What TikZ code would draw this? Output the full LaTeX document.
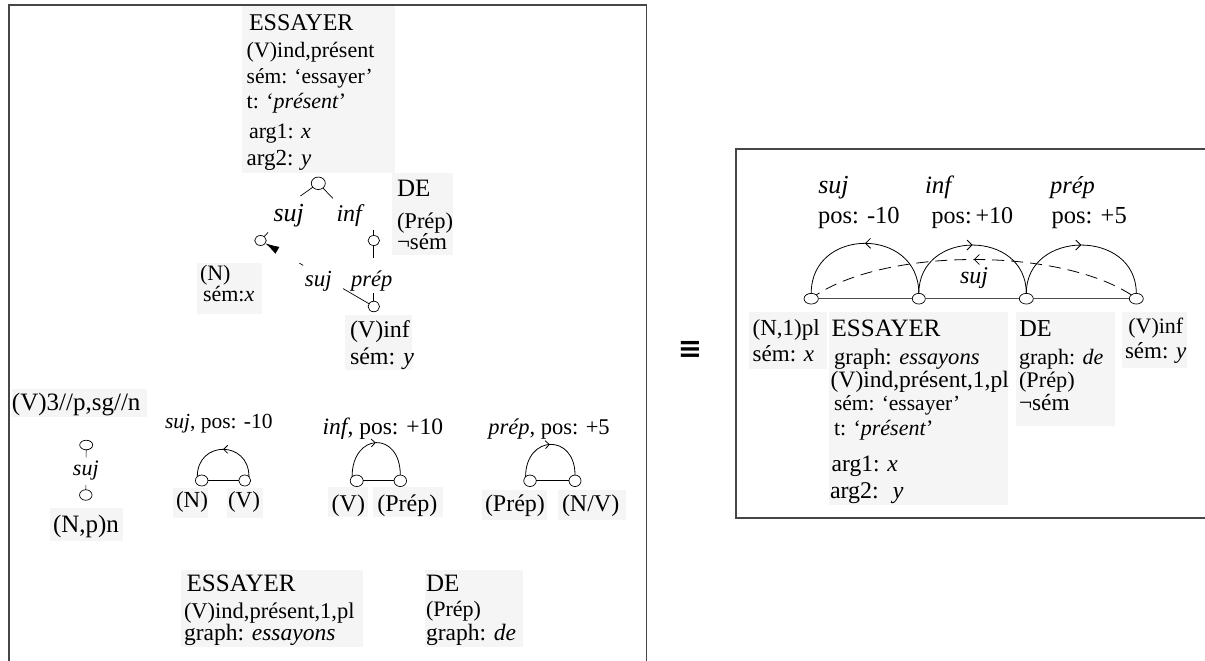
\documentclass[tikz,border=0pt]{standalone}
\usepackage{fontspec}
\setmainfont{Liberation Serif}
\newfontfamily\dejavu{DejaVu Sans}
\usetikzlibrary{arrows.meta,decorations.markings,shapes.geometric,calc}
\newcommand{\fsz}[1]{\fontsize{#1}{#1}\selectfont}
\definecolor{boxgray}{RGB}{245,245,245}
\definecolor{framegray}{RGB}{70,70,70}
\tikzset{
  frame/.style={draw=framegray, line width=1.3pt},
  gbox/.style={rectangle, fill=boxgray, inner sep=0pt, outer sep=0pt, anchor=north west},
  txt/.style={anchor=base west, inner sep=0pt, outer sep=0pt},
  lbl/.style={anchor=base, inner sep=0pt, outer sep=0pt},
  knob/.style 2 args={ellipse, draw, fill=white, inner sep=0pt, outer sep=0pt,
                      line width=0.7pt, minimum width=#1, minimum height=#2},
  edge/.style={line width=0.7pt},
  arcline/.style={line width=0.8pt},
  baseline/.style={draw=black!70, line width=1.1pt},
  smallbarb/.style={postaction={decorate}, decoration={markings,
      mark=at position 0.5 with {\arrow{Straight Barb[length=4pt,width=8pt]}}}},
  bigbarb/.style={postaction={decorate}, decoration={markings,
      mark=at position 0.5 with {\arrow{Straight Barb[length=5pt,width=10pt]}}}},
}
\begin{document}
\begin{tikzpicture}[x=1pt,y=-1pt]
\useasboundingbox (0,0) rectangle (1205,661);

% ---------------- left panel: lexical and syntactic rules ----------------
% ESSAYER semantic entry
\node[gbox, minimum width=153pt, minimum height=166.7pt] (bTop) at (242,6) {};
\node[txt] (tEss) at (249,31)    {\fsz{24}ESSAYER};
\node[txt] (tInd) at (246.7,57.3) {\fsz{22}(V)ind,présent};
\node[txt] (tSem) at (246.7,84)  {\fsz{21.5}sém: ‘essayer’};
\node[txt] (tT)   at (246.7,108) {\fsz{22}t: ‘\textit{présent}’};
\node[txt] (tA1)  at (249,138)   {\fsz{22}arg1: \textit{x}};
\node[txt] (tA2)  at (246.7,165) {\fsz{23}arg2: \textit{y}};

% DE entry
\node[gbox, minimum width=61pt, minimum height=82pt] (bDe) at (392,173) {};
\node[txt] (dDe)   at (397,196.7) {\fsz{25}DE};
\node[txt] (dPrep) at (397,228.5) {\fsz{22.5}(Prép)};
\node[txt] (dNeg)  at (397,249)   {\fsz{23}¬sém};

% (N) and (V)inf entries
\node[gbox, minimum width=65pt, minimum height=50.7pt] (bN) at (196.7,263.3) {};
\node[txt] (nN)   at (200,280)   {\fsz{22}(N)};
\node[txt] (nSem) at (203,301.5) {\fsz{22}sém:\textit{x}};
\node[gbox, minimum width=66.7pt, minimum height=55pt] (bVinf) at (345,315) {};
\node[txt] (vInf) at (350,337.5) {\fsz{24}(V)inf};
\node[txt] (vSem) at (350,364)   {\fsz{24}sém: \textit{y}};

% dependency tree of ESSAYER
\node[knob={14pt}{12.5pt}] (t0)   at (318.3,183.3) {};
\node[knob={11.5pt}{10pt}] (csuj) at (260.5,240.5) {};
\node[knob={11.5pt}{10pt}] (cinf) at (373.8,240.5) {};
\node[knob={11.5pt}{10.5pt}] (cV) at (373.8,306.5) {};
\node[lbl] (lsuj)  at (288.7,221) {\fsz{26}\itshape suj};
\node[lbl] (linf)  at (349.2,221) {\fsz{24}\itshape inf};
\node[lbl] (lprep) at (371.7,286) {\fsz{22.5}\itshape prép};
\node[lbl] (ldsuj) at (318.3,286.3) {\fsz{23}\itshape suj};

\draw[edge] (t0) -- ($(t0)!22pt!(lsuj.west)$);
\draw[edge] (t0) -- ($(t0)!21pt!(linf)$);
\draw[edge] (csuj) -- ($(csuj)!11pt!(lsuj.south west)$);
\draw[edge] (cinf) -- ($(cinf)!11pt!(cinf|-linf)$);
\draw[edge] (cinf) -- ($(cinf)!17pt!(cV)$);
\draw[edge] (cV) -- ($(cV)!14pt!(cinf)$);
\draw[edge, dash pattern=on 30pt off 46pt on 4.5pt off 60pt,
      -{Latex[length=14pt,width=8pt]}] (cV) -- (csuj);

% agreement rule
\node[gbox, minimum width=135pt, minimum height=27.7pt] (bV3) at (11.7,389) {};
\node[txt] (v3) at (12,410) {\fsz{25}(V)3//p,sg//n};
\node[knob={13pt}{9.5pt}] (ctop) at (86.2,445) {};
\node[knob={12.5pt}{10.5pt}] (cbot) at (85.8,495) {};
\node[lbl] (lagr) at (85.8,475) {\fsz{22}\itshape suj};
\draw[edge] (ctop) -- ($(ctop)!12.3pt!(cbot)$);
\draw[edge] (cbot) -- ($(cbot)!10pt!(ctop)$);
\node[gbox, minimum width=72.7pt, minimum height=32.7pt] (bNp) at (50,508) {};
\node[txt] (np) at (53,532) {\fsz{25}(N,p)n};

% linearisation rules
\node[txt] (rSuj) at (165,428.3) {\fsz{21.5}\textit{suj}, pos: -10};
\node[knob={12.5pt}{11pt}] (aL) at (201.7,480.5) {};
\node[knob={12pt}{11pt}]   (aR) at (244.7,480.5) {};
\draw[edge] (aL) -- (aR);
\draw[arcline, smallbarb] (aR.north east) .. controls +(0,-36.4) and +(0,-36.4) .. (aL.north west);
\node[gbox, minimum width=35pt, minimum height=29.7pt] (bAN) at (173,488.3) {};
\node[txt] (aN) at (176,507.7) {\fsz{23}(N)};
\node[gbox, minimum width=36.3pt, minimum height=29.7pt] (bAV) at (226.7,488.3) {};
\node[txt] (aV) at (228,507.7) {\fsz{23}(V)};

\node[txt] (rInf) at (322.7,434) {\fsz{23.5}\textit{inf}, pos: +10};
\node[knob={13pt}{11.5pt}] (bL) at (356.7,480.8) {};
\node[knob={12.5pt}{11.5pt}] (bR) at (400.3,480.8) {};
\draw[edge] (bL) -- (bR);
\draw[arcline, smallbarb] (bL.north west) .. controls +(0,-44.4) and +(0,-44.4) .. (bR.north);
\node[gbox, minimum width=40pt, minimum height=30pt] (bBV) at (328.3,486.7) {};
\node[txt] (bV) at (331.7,511.5) {\fsz{24}(V)};
\node[gbox, minimum width=70pt, minimum height=30pt] (bBP) at (373.3,486.7) {};
\node[txt] (bP) at (377.3,511.5) {\fsz{24}(Prép)};

\node[txt] (rPrep) at (488.3,434.5) {\fsz{22.5}\textit{prép}, pos: +5};
\node[knob={12.5pt}{11.5pt}] (cL) at (530,480.8) {};
\node[knob={12pt}{11.5pt}]   (cR) at (575,480.8) {};
\draw[edge] (cL) -- (cR);
\draw[arcline, smallbarb] (cL.north west) .. controls +(0,-42) and +(0,-42) .. (cR.north);
\node[gbox, minimum width=65pt, minimum height=30pt] (bCP) at (481.7,490) {};
\node[txt] (cP) at (485,511) {\fsz{24}(Prép)};
\node[gbox, minimum width=68pt, minimum height=30pt] (bCN) at (558.3,490) {};
\node[txt] (cN) at (562,511) {\fsz{24}(N/V)};

% word forms
\node[gbox, minimum width=182pt, minimum height=76.7pt] (bEss2) at (180.7,570) {};
\node[txt] (eEss) at (186.7,591.7) {\fsz{25}ESSAYER};
\node[txt] (eInd) at (184,618)     {\fsz{22.5}(V)ind,présent,1,pl};
\node[txt] (eGr)  at (184,640)     {\fsz{23.5}graph: \textit{essayons}};
\node[gbox, minimum width=97.7pt, minimum height=76.7pt] (bDe2) at (425,570) {};
\node[txt] (fDe)  at (426,591.7) {\fsz{25}DE};
\node[txt] (fPr)  at (426,616)   {\fsz{22}(Prép)};
\node[txt] (fGr)  at (426,640)   {\fsz{23.5}graph: \textit{de}};

\draw[frame] (9,661) -- (9,5) -- (646.5,5) -- (646.5,661);

% equivalence sign
\node[inner sep=0pt] (eqv) at (690,349.5) {\dejavu\bfseries\fsz{29}≡};

% ---------------- right panel: resulting structure ----------------
\node[txt] (hSuj)  at (818.3,193.3) {\fsz{26}\itshape suj};
\node[txt] (hInf)  at (925,193.3)   {\fsz{25}\itshape inf};
\node[txt] (hPrep) at (1050,193.3)  {\fsz{24.5}\itshape prép};
\node[txt] (pSuj)  at (818,223.3)   {\fsz{24.5}pos: -10};
\node[txt] (pInf)  at (931.7,223.3) {\fsz{24}pos:\,+10};
\node[txt] (pPrep) at (1051.7,223.3) {\fsz{24.5}pos: +5};

\node[knob={14.3pt}{10.7pt}] (r1) at (811.2,298.7) {};
\node[knob={13pt}{10.7pt}]   (r2) at (918.8,298.7) {};
\node[knob={14pt}{10.7pt}]   (r3) at (1026.3,298.7) {};
\node[knob={14pt}{10.7pt}]   (r4) at (1136.3,298.7) {};
\draw[baseline] (r1) -- (r2);
\draw[baseline] (r2) -- (r3);
\draw[baseline] (r3) -- (r4);
\draw[arcline, bigbarb] (r2.north) .. controls +(0,-66.7) and +(0,-66.7) .. (r1.north);
\draw[arcline, bigbarb] (r2.north) .. controls +(0,-64.4) and +(0,-64.4) .. (r3.north);
\draw[arcline, bigbarb] (r3.north) .. controls +(0,-64.4) and +(0,-64.4) .. (r4.north);
\draw[arcline, dash pattern=on 12pt off 7pt, bigbarb]
  (r4.north west) .. controls (1058.8,247.7) and (888.8,247.7) .. (r1.north east);
\node[txt] (hdSuj) at (960,283) {\fsz{24}\itshape suj};

\node[gbox, minimum width=77.4pt, minimum height=57.6pt] (sN) at (749.3,311.7) {};
\node[txt] (sN1) at (752.7,335)   {\fsz{23}(N,1)pl};
\node[txt] (sN2) at (752.7,361.7) {\fsz{23}sém: \textit{x}};

\node[gbox, minimum width=179pt, minimum height=193.3pt] (sE) at (829.3,311.7) {};
\node[txt] (sE1) at (831.7,336.7) {\fsz{25}ESSAYER};
\node[txt] (sE2) at (834,364)     {\fsz{22.6}graph: \textit{essayons}};
\node[txt] (sE3) at (830.7,387)   {\fsz{23.5}(V)ind,présent,1,pl};
\node[txt] (sE4) at (834,410)     {\fsz{21.5}sém: ‘essayer’};
\node[txt] (sE5) at (834,435)     {\fsz{22}t: ‘\textit{présent}’};
\node[txt] (sE6) at (831.7,471)   {\fsz{23.5}arg1: \textit{x}};
\node[txt] (sE7) at (830,498)     {\fsz{24}arg2: \ \textit{y}};

\node[gbox, minimum width=99pt, minimum height=114.3pt] (sD) at (1016,311.7) {};
\node[txt] (sD1) at (1019.3,336.7) {\fsz{24.3}DE};
\node[txt] (sD2) at (1019,364)     {\fsz{22}graph: \textit{de}};
\node[txt] (sD3) at (1019,387)     {\fsz{22.3}(Prép)};
\node[txt] (sD4) at (1019,410)     {\fsz{23.3}¬sém};

\node[gbox, minimum width=65pt, minimum height=56.6pt] (sV) at (1121.7,311.7) {};
\node[txt] (sV1) at (1128.3,333) {\fsz{22}(V)inf};
\node[txt] (sV2) at (1125,358)   {\fsz{23}sém: \textit{y}};

\draw[frame] (1205,149) -- (736,149) -- (736,518) -- (1205,518);
\end{tikzpicture}
\end{document}
